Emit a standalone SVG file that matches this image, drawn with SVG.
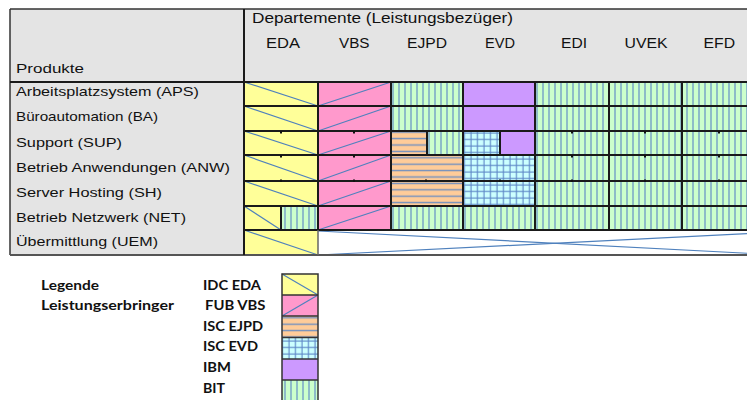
<svg xmlns="http://www.w3.org/2000/svg" width="747" height="400" viewBox="0 0 747 400">
<style>
.lbl{font-family:"Liberation Sans",Arial,sans-serif;font-size:13px;fill:#111}
.hdr{font-family:"Liberation Sans",Arial,sans-serif;font-size:14px;fill:#111}
.leg{font-family:Lato,"Liberation Sans",sans-serif;font-size:14px;font-weight:bold;fill:#111}
.grid{stroke:#1a1a1a;stroke-width:2;fill:none}
.diag{stroke:#4f81bd;stroke-width:1.2;fill:none}
.dot{fill:#111}
</style>
<defs>
<pattern id="pGreen" width="6" height="10" patternUnits="userSpaceOnUse"><rect width="6" height="10" fill="#ccffcc"/><line x1="3" y1="0" x2="3" y2="10" stroke="#5b85c6" stroke-width="1.1"/></pattern>
<pattern id="pOrange" width="10" height="6.4" patternUnits="userSpaceOnUse" y="1"><rect width="10" height="6.4" fill="#ffcc99"/><line x1="0" y1="3.2" x2="10" y2="3.2" stroke="#7190c0" stroke-width="1.4"/></pattern>
<pattern id="pCyan" width="6.5" height="6.5" patternUnits="userSpaceOnUse"><rect width="6.5" height="6.5" fill="#ccffff"/><line x1="3" y1="0" x2="3" y2="6.5" stroke="#5b85c6" stroke-width="1.1"/><line x1="0" y1="3" x2="6.5" y2="3" stroke="#5b85c6" stroke-width="1.1"/></pattern>
</defs>

<g id="header">
<rect x="10" y="9" width="737" height="73" fill="#e4e4e4"/>
<rect x="10" y="82" width="234" height="173" fill="#e4e4e4"/>
<text class="hdr" x="252" y="23" textLength="261" lengthAdjust="spacingAndGlyphs">Departemente (Leistungsbezüger)</text>
<text class="hdr" x="266" y="47.5" textLength="34" lengthAdjust="spacingAndGlyphs">EDA</text>
<text class="hdr" x="339" y="47.5" textLength="30.5" lengthAdjust="spacingAndGlyphs">VBS</text>
<text class="hdr" x="407" y="47.5" textLength="40" lengthAdjust="spacingAndGlyphs">EJPD</text>
<text class="hdr" x="485" y="47.5" textLength="30" lengthAdjust="spacingAndGlyphs">EVD</text>
<text class="hdr" x="561" y="47.5" textLength="26" lengthAdjust="spacingAndGlyphs">EDI</text>
<text class="hdr" x="624.5" y="47.5" textLength="43" lengthAdjust="spacingAndGlyphs">UVEK</text>
<text class="hdr" x="703.5" y="47.5" textLength="31.5" lengthAdjust="spacingAndGlyphs">EFD</text>
<text class="lbl" x="16" y="73" textLength="68" lengthAdjust="spacingAndGlyphs">Produkte</text>
</g>

<g id="row-labels">
<text class="lbl" x="16" y="96" textLength="183" lengthAdjust="spacingAndGlyphs">Arbeitsplatzsystem (APS)</text>
<text class="lbl" x="16" y="120.5" textLength="142" lengthAdjust="spacingAndGlyphs">Büroautomation (BA)</text>
<text class="lbl" x="16" y="146.5" textLength="106" lengthAdjust="spacingAndGlyphs">Support (SUP)</text>
<text class="lbl" x="16" y="172" textLength="214" lengthAdjust="spacingAndGlyphs">Betrieb Anwendungen (ANW)</text>
<text class="lbl" x="16" y="197" textLength="146" lengthAdjust="spacingAndGlyphs">Server Hosting (SH)</text>
<text class="lbl" x="16" y="221.5" textLength="170" lengthAdjust="spacingAndGlyphs">Betrieb Netzwerk (NET)</text>
<text class="lbl" x="16" y="246" textLength="142" lengthAdjust="spacingAndGlyphs">Übermittlung (UEM)</text>
</g>

<g id="cells">
<rect x="244" y="82" width="74" height="173" fill="#ffff99"/>
<rect x="281" y="206" width="37" height="24" fill="url(#pGreen)"/>
<rect x="318" y="82" width="73" height="148" fill="#ff99cc"/>
<rect x="391" y="82" width="72" height="49" fill="url(#pGreen)"/>
<rect x="391" y="131" width="36" height="24" fill="url(#pOrange)"/>
<rect x="427" y="131" width="36" height="24" fill="url(#pGreen)"/>
<rect x="391" y="155" width="72" height="51" fill="url(#pOrange)"/>
<rect x="391" y="206" width="72" height="24" fill="url(#pGreen)"/>
<rect x="463" y="82" width="72" height="49" fill="#cc99ff"/>
<rect x="463" y="131" width="37" height="24" fill="url(#pCyan)"/>
<rect x="500" y="131" width="35" height="24" fill="#cc99ff"/>
<rect x="463" y="155" width="72" height="51" fill="url(#pCyan)"/>
<rect x="463" y="206" width="72" height="24" fill="url(#pGreen)"/>
<rect x="535" y="82" width="212" height="148" fill="url(#pGreen)"/>
<rect x="318" y="230" width="429" height="25" fill="#ffffff"/>
</g>

<g id="diagonals">
<line class="diag" x1="244" y1="82" x2="318" y2="106"/>
<line class="diag" x1="244" y1="106" x2="318" y2="131"/>
<line class="diag" x1="244" y1="131" x2="318" y2="155"/>
<line class="diag" x1="244" y1="155" x2="318" y2="181"/>
<line class="diag" x1="244" y1="181" x2="318" y2="206"/>
<line class="diag" x1="244" y1="206" x2="281" y2="230"/>
<line class="diag" x1="244" y1="230" x2="318" y2="255"/>
<line class="diag" x1="318" y1="106" x2="391" y2="82"/>
<line class="diag" x1="318" y1="131" x2="391" y2="106"/>
<line class="diag" x1="318" y1="155" x2="391" y2="131"/>
<line class="diag" x1="318" y1="181" x2="391" y2="155"/>
<line class="diag" x1="318" y1="206" x2="391" y2="181"/>
<line class="diag" x1="318" y1="230" x2="391" y2="206"/>
<line class="diag" x1="318" y1="231" x2="800" y2="256"/>
<line class="diag" x1="318" y1="255" x2="800" y2="231"/>
</g>

<g id="grid">
<line x1="10" y1="9" x2="747" y2="9" stroke="#333" stroke-width="1.5"/>
<line x1="10" y1="9" x2="10" y2="255" stroke="#333" stroke-width="1.5"/>
<line x1="10" y1="255" x2="747" y2="255" stroke="#555" stroke-width="2"/>
<line class="grid" x1="10" y1="82" x2="747" y2="82"/>
<line class="grid" x1="244" y1="9" x2="244" y2="255"/>
<line class="grid" x1="244" y1="106" x2="747" y2="106"/>
<line class="grid" x1="244" y1="131" x2="747" y2="131"/>
<line class="grid" x1="244" y1="155" x2="747" y2="155"/>
<line class="grid" x1="244" y1="181" x2="747" y2="181"/>
<line class="grid" x1="244" y1="206" x2="747" y2="206"/>
<line class="grid" x1="244" y1="230" x2="747" y2="230"/>
<line class="grid" x1="318" y1="82" x2="318" y2="230"/>
<line x1="318" y1="230" x2="318" y2="255" stroke="#666" stroke-width="1.5"/>
<line class="grid" x1="391" y1="82" x2="391" y2="230"/>
<line class="grid" x1="463" y1="82" x2="463" y2="230"/>
<line class="grid" x1="535" y1="82" x2="535" y2="230"/>
<line class="grid" x1="609" y1="82" x2="609" y2="230"/>
<line class="grid" x1="682" y1="82" x2="682" y2="230"/>
<line class="grid" x1="281" y1="206" x2="281" y2="230"/>
<line class="grid" x1="427" y1="131" x2="427" y2="155"/>
<line class="grid" x1="500" y1="131" x2="500" y2="155"/>
</g>

<g id="marks">
<rect class="dot" x="280" y="131" width="2" height="2.5"/><rect class="dot" x="280" y="155" width="2" height="2.5"/><rect class="dot" x="280" y="179.5" width="2" height="2.5"/>
<rect class="dot" x="353" y="131" width="2" height="2.5"/><rect class="dot" x="353" y="155" width="2" height="2.5"/><rect class="dot" x="353" y="179.5" width="2" height="2.5"/>
<rect class="dot" x="425" y="179.5" width="2" height="2.5"/>
<rect class="dot" x="499" y="179.5" width="2" height="2.5"/>
<rect class="dot" x="571" y="131" width="2" height="2.5"/><rect class="dot" x="571" y="155" width="2" height="2.5"/><rect class="dot" x="571" y="179.5" width="2" height="2.5"/>
<rect class="dot" x="644" y="131" width="2" height="2.5"/><rect class="dot" x="644" y="155" width="2" height="2.5"/><rect class="dot" x="644" y="179.5" width="2" height="2.5"/>
<rect class="dot" x="718" y="131" width="2" height="2.5"/><rect class="dot" x="718" y="155" width="2" height="2.5"/><rect class="dot" x="718" y="179.5" width="2" height="2.5"/>
</g>

<g id="legend">
<text class="leg" x="41" y="289.5" textLength="58" lengthAdjust="spacingAndGlyphs">Legende</text>
<text class="leg" x="41" y="309.5" textLength="133" lengthAdjust="spacingAndGlyphs">Leistungserbringer</text>
<text class="leg" x="203" y="289.5" textLength="58" lengthAdjust="spacingAndGlyphs">IDC EDA</text>
<text class="leg" x="205" y="309.5" textLength="60.5" lengthAdjust="spacingAndGlyphs">FUB VBS</text>
<text class="leg" x="203" y="330.5" textLength="60" lengthAdjust="spacingAndGlyphs">ISC EJPD</text>
<text class="leg" x="203" y="351" textLength="55" lengthAdjust="spacingAndGlyphs">ISC EVD</text>
<text class="leg" x="203" y="372" textLength="28" lengthAdjust="spacingAndGlyphs">IBM</text>
<text class="leg" x="203" y="392.5" textLength="22" lengthAdjust="spacingAndGlyphs">BIT</text>
<g id="legend-swatches">
<rect x="282" y="274" width="36" height="21" fill="#ffff99"/>
<line class="diag" x1="282" y1="274" x2="318" y2="295"/>
<rect x="282" y="295" width="36" height="21" fill="#ff99cc"/>
<line class="diag" x1="282" y1="316" x2="318" y2="295"/>
<rect x="282" y="316" width="36" height="21.5" fill="url(#pOrange)"/>
<rect x="282" y="337.5" width="36" height="21.5" fill="url(#pCyan)"/>
<rect x="282" y="359" width="36" height="21" fill="#cc99ff"/>
<rect x="282" y="380" width="36" height="22" fill="url(#pGreen)"/>
<g stroke="#333" stroke-width="1.5" fill="none">
<rect x="282" y="274" width="36" height="130"/>
<line x1="282" y1="295" x2="318" y2="295"/>
<line x1="282" y1="316" x2="318" y2="316"/>
<line x1="282" y1="337.5" x2="318" y2="337.5"/>
<line x1="282" y1="359" x2="318" y2="359"/>
<line x1="282" y1="380" x2="318" y2="380"/>
</g>
</g>
</g>
</svg>
